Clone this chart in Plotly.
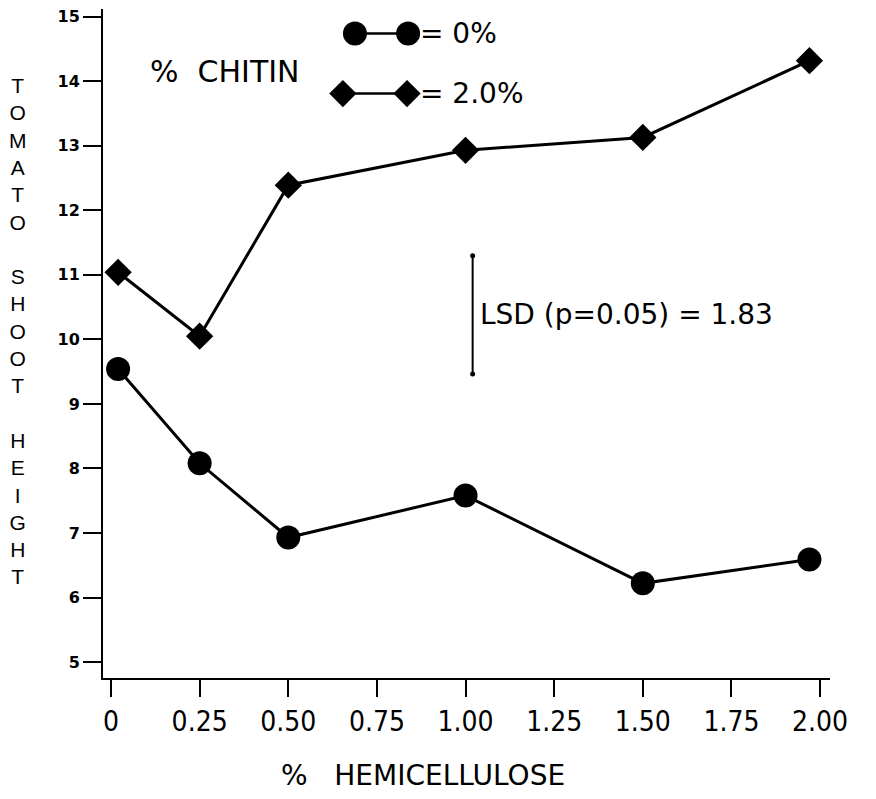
import plotly.graph_objects as go

# Data
hemicellulose_x = [0.02, 0.25, 0.5, 1.0, 1.5, 1.97]
chitin_0 = [9.54, 8.08, 6.93, 7.58, 6.22, 6.59]
chitin_2 = [11.04, 10.05, 12.39, 12.93, 13.13, 14.32]

x_ticks = [0, 0.25, 0.5, 0.75, 1.0, 1.25, 1.5, 1.75, 2.0]
x_tick_labels = ["0", "0.25", "0.50", "0.75", "1.00", "1.25", "1.50", "1.75", "2.00"]
y_ticks = [5, 6, 7, 8, 9, 10, 11, 12, 13, 14, 15]
y_tick_labels = ["<b>%d</b>" % v for v in y_ticks]

lsd_value = 1.83
lsd_x = 1.02
lsd_center = 10.38

# legend sample positions (data coords)
leg_circle_x = [0.688, 0.838]
leg_circle_y = [14.74, 14.74]
leg_diamond_x = [0.654, 0.835]
leg_diamond_y = [13.81, 13.81]

FONT_C = "DejaVu Sans Condensed, Liberation Sans Narrow, DejaVu Sans"
FONT = "DejaVu Sans"

fig = go.Figure()

fig.add_trace(go.Scatter(
    x=hemicellulose_x, y=chitin_0, mode="lines+markers",
    line=dict(color="black", width=3),
    marker=dict(symbol="circle", size=24, color="black"),
    showlegend=False,
))
fig.add_trace(go.Scatter(
    x=hemicellulose_x, y=chitin_2, mode="lines+markers",
    line=dict(color="black", width=3),
    marker=dict(symbol="diamond", size=21, color="black"),
    showlegend=False,
))

# LSD bar
fig.add_trace(go.Scatter(
    x=[lsd_x, lsd_x], y=[lsd_center - lsd_value / 2, lsd_center + lsd_value / 2],
    mode="lines+markers",
    line=dict(color="black", width=2),
    marker=dict(symbol="circle", size=5, color="black"),
    showlegend=False,
))

# legend samples
fig.add_trace(go.Scatter(
    x=leg_circle_x, y=leg_circle_y, mode="lines+markers",
    line=dict(color="black", width=2.5),
    marker=dict(symbol="circle", size=24, color="black"),
    showlegend=False,
))
fig.add_trace(go.Scatter(
    x=leg_diamond_x, y=leg_diamond_y, mode="lines+markers",
    line=dict(color="black", width=2.5),
    marker=dict(symbol="diamond", size=21, color="black"),
    showlegend=False,
))

annotations = [
    dict(x=0.866, y=14.74, text="= 0%", xanchor="left", yanchor="middle",
         showarrow=False, font=dict(size=28, family=FONT, color="black")),
    dict(x=0.866, y=13.81, text="= 2.0%", xanchor="left", yanchor="middle",
         showarrow=False, font=dict(size=28, family=FONT, color="black")),
    dict(x=0.105, y=14.15, text="%  CHITIN", xanchor="left", yanchor="middle",
         showarrow=False, font=dict(size=30, family=FONT, color="black")),
    dict(x=1.035, y=10.39, text="LSD (p=0.05) = 1.83", xanchor="left", yanchor="middle",
         showarrow=False, font=dict(size=28, family=FONT, color="black")),
    dict(xref="paper", yref="paper", x=-0.117, y=0.518, text="<br>".join(list("TOMATO SHOOT HEIGHT")),
         xanchor="center", yanchor="middle", showarrow=False,
         font=dict(size=21, family="Liberation Sans, DejaVu Sans", color="black")),
    dict(xref="paper", yref="paper", x=0.44, y=-0.145, text="%   HEMICELLULOSE",
         xanchor="center", yanchor="middle", showarrow=False,
         font=dict(size=28, family=FONT, color="black")),
]

fig.update_layout(
    width=868, height=791,
    margin=dict(l=95, r=46, t=1, b=121),
    paper_bgcolor="white", plot_bgcolor="white",
    annotations=annotations,
    xaxis=dict(
        range=[-0.0226, 2.028], tickvals=x_ticks, ticktext=x_tick_labels,
        showline=True, linecolor="black", linewidth=2,
        ticks="outside", ticklen=17, tickwidth=2, tickcolor="black",
        showgrid=False, zeroline=False, automargin=False,
        ticklabeloverflow="allow",
        tickfont=dict(size=28, family=FONT_C, color="black"),
    ),
    yaxis=dict(
        range=[4.753, 15.12], tickvals=y_ticks, ticktext=y_tick_labels,
        showline=True, linecolor="black", linewidth=2,
        ticks="outside", ticklen=18, tickwidth=2, tickcolor="black",
        showgrid=False, zeroline=False, automargin=False,
        ticklabeloverflow="allow",
        tickfont=dict(size=16, family=FONT, color="black"),
    ),
)

fig.write_html("out.html")
